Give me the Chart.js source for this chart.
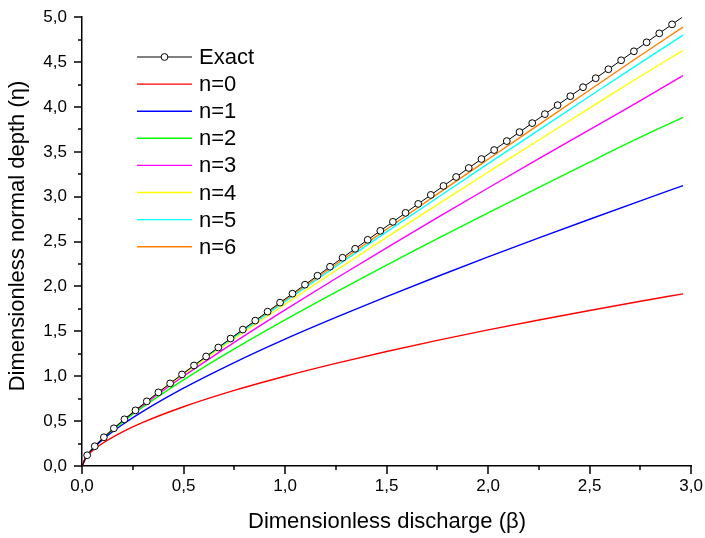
<!DOCTYPE html>
<html>
<head>
<meta charset="utf-8">
<script src="https://cdn.jsdelivr.net/npm/chart.js@4.4.1/dist/chart.umd.min.js"></script>
<style>
  html, body { margin: 0; padding: 0; background: #fff; }
  #wrap { width: 705px; height: 538px; }
</style>
</head>
<body>
<div id="wrap"><canvas id="chart" width="705" height="538"></canvas></div>
<script>
// exact solution, markers every 0.1 in eta
const exactBeta = [0, 0.0253, 0.0629, 0.1077, 0.1569, 0.2090, 0.2633, 0.3191, 0.3761, 0.4340, 0.4925,
    0.5516, 0.6112, 0.6713, 0.7316, 0.7922, 0.8531, 0.9141, 0.9753, 1.0366, 1.0981,
    1.1596, 1.2214, 1.2832, 1.3450, 1.4071, 1.4691, 1.5311, 1.5933, 1.6556, 1.7178,
    1.7800, 1.8425, 1.9047, 1.9672, 2.0296, 2.0920, 2.1546, 2.2171, 2.2795, 2.3421,
    2.4048, 2.4674, 2.5298, 2.5923, 2.6550, 2.7179, 2.7806, 2.8428, 2.9058, 2.956];
const exactEta = [0, 0.12, 0.22, 0.32, 0.42, 0.52, 0.62, 0.72, 0.82, 0.92, 1.02,
    1.12, 1.22, 1.32, 1.42, 1.52, 1.62, 1.72, 1.82, 1.92, 2.02,
    2.12, 2.22, 2.32, 2.42, 2.52, 2.62, 2.72, 2.82, 2.92, 3.02,
    3.12, 3.22, 3.32, 3.42, 3.52, 3.62, 3.72, 3.82, 3.92, 4.02,
    4.12, 4.22, 4.32, 4.42, 4.52, 4.62, 4.72, 4.82, 4.92, 5.0];

// approximations
const beta = [0, 0.02, 0.05, 0.1, 0.2, 0.3, 0.5, 0.75, 1.0, 1.25, 1.5, 1.75, 2.0, 2.25, 2.5, 2.75, 2.96];
const n0 = [0, 0.096, 0.166, 0.251, 0.381, 0.486, 0.660, 0.842, 1.000, 1.143, 1.275, 1.399, 1.516, 1.627, 1.733, 1.835, 1.918];
const n1 = [0, 0.102, 0.184, 0.290, 0.462, 0.609, 0.867, 1.152, 1.413, 1.655, 1.887, 2.111, 2.329, 2.541, 2.749, 2.954, 3.124];
const n2 = [0, 0.103, 0.187, 0.300, 0.489, 0.657, 0.959, 1.304, 1.628, 1.938, 2.239, 2.533, 2.821, 3.105, 3.386, 3.663, 3.885];
const n3 = [0, 0.103, 0.188, 0.302, 0.498, 0.675, 1.000, 1.378, 1.739, 2.089, 2.430, 2.766, 3.097, 3.424, 3.748, 4.070, 4.350];
const n4 = [0, 0.103, 0.188, 0.303, 0.501, 0.682, 1.019, 1.418, 1.802, 2.178, 2.547, 2.912, 3.273, 3.632, 3.987, 4.342, 4.630];
const n5 = [0, 0.103, 0.188, 0.303, 0.502, 0.684, 1.027, 1.436, 1.833, 2.223, 2.608, 2.989, 3.368, 3.744, 4.119, 4.492, 4.800];
const n6 = [0, 0.103, 0.188, 0.303, 0.503, 0.685, 1.031, 1.444, 1.847, 2.245, 2.638, 3.029, 3.417, 3.804, 4.189, 4.573, 4.890];

const seriesNames = ['n=0', 'n=1', 'n=2', 'n=3', 'n=4', 'n=5', 'n=6'];
const seriesColors = ['#FF0000', '#0000FF', '#00FF00', '#FF00FF', '#FFFF00', '#00FFFF', '#FF8000'];
const seriesData = [n0, n1, n2, n3, n4, n5, n6];

const xTitle = 'Dimensionless discharge (\u03B2)';
const yTitle = 'Dimensionless normal depth (\u03B7)';
const FONT = 'Arial, "Liberation Sans", sans-serif';

function pts(xs, ys) {
    return xs.map((x, i) => ({ x: x, y: ys[i] }));
}

const datasets = [{
    label: 'Exact',
    data: pts(exactBeta, exactEta),
    borderColor: '#000000',
    borderWidth: 1,
    pointBackgroundColor: '#ffffff',
    pointBorderColor: '#000000',
    pointBorderWidth: 1,
    pointRadius: ctx => (ctx.dataIndex === 0 || ctx.dataIndex === exactEta.length - 1) ? 0 : 3.4,
    showLine: true
}];
seriesData.forEach((ys, i) => {
    datasets.push({
        label: seriesNames[i],
        data: pts(beta, ys),
        borderColor: seriesColors[i],
        borderWidth: 1.4,
        pointRadius: 0,
        showLine: true,
        cubicInterpolationMode: 'monotone'
    });
});

const fmt = v => v.toFixed(1).replace('.', ',');

// ticks (major + minor), axis titles, legend
const decorPlugin = {
    id: 'decor',
    afterDraw(chart) {
        const ctx = chart.ctx;
        const xs = chart.scales.x, ys = chart.scales.y;
        const a = chart.chartArea;
        ctx.save();
        ctx.strokeStyle = '#000';
        ctx.lineWidth = 1.5;
        for (let k = 0; k <= 12; k++) {
            const px = Math.round(xs.getPixelForValue(k * 0.25));
            const len = k % 2 === 0 ? 8 : 4;
            ctx.beginPath();
            ctx.moveTo(px, a.bottom);
            ctx.lineTo(px, a.bottom + len);
            ctx.stroke();
        }
        for (let k = 0; k <= 20; k++) {
            const py = Math.round(ys.getPixelForValue(k * 0.25));
            const len = k % 2 === 0 ? 8 : 4;
            ctx.beginPath();
            ctx.moveTo(a.left, py);
            ctx.lineTo(a.left - len, py);
            ctx.stroke();
        }

        ctx.fillStyle = '#000';
        ctx.font = '22px ' + FONT;
        ctx.textAlign = 'center';
        ctx.textBaseline = 'middle';
        ctx.fillText(xTitle, 387, 522);
        ctx.save();
        ctx.translate(18, 236);
        ctx.rotate(-Math.PI / 2);
        ctx.fillText(yTitle, 0, 0);
        ctx.restore();

        // legend
        const x0 = 137, x1 = 192, tx = 199, y0 = 57, dy = 27.1;
        ctx.font = '22px ' + FONT;
        ctx.textAlign = 'left';
        chart.data.datasets.forEach((ds, i) => {
            const y = y0 + i * dy;
            ctx.strokeStyle = ds.borderColor;
            ctx.lineWidth = ds.borderWidth;
            ctx.beginPath();
            ctx.moveTo(x0, y);
            ctx.lineTo(x1, y);
            ctx.stroke();
            if (i === 0) {
                ctx.beginPath();
                ctx.arc((x0 + x1) / 2, y, 3.4, 0, Math.PI * 2);
                ctx.fillStyle = '#fff';
                ctx.fill();
                ctx.lineWidth = 1;
                ctx.stroke();
            }
            ctx.fillStyle = '#000';
            ctx.fillText(ds.label, tx, y + 1);
        });
        ctx.restore();
    }
};

new Chart(document.getElementById('chart').getContext('2d'), {
    type: 'scatter',
    data: { datasets: datasets },
    options: {
        responsive: false,
        animation: false,
        layout: { padding: { left: 0, right: 11, top: 16, bottom: 0 } },
        plugins: {
            legend: { display: false },
            tooltip: { enabled: false }
        },
        scales: {
            x: {
                type: 'linear',
                min: 0,
                max: 3,
                grid: { display: false },
                border: { display: true, color: '#000', width: 1.5 },
                ticks: {
                    stepSize: 0.5,
                    color: '#000',
                    padding: 2,
                    font: { family: FONT, size: 17 },
                    callback: v => fmt(v)
                },
                afterFit: s => { s.height = 72; }
            },
            y: {
                type: 'linear',
                min: 0,
                max: 5,
                grid: { display: false },
                border: { display: true, color: '#000', width: 1.5 },
                ticks: {
                    stepSize: 0.5,
                    color: '#000',
                    padding: 7,
                    font: { family: FONT, size: 17 },
                    callback: v => fmt(v)
                },
                afterFit: s => { s.width = 82; }
            }
        }
    },
    plugins: [decorPlugin]
});
</script>
</body>
</html>
